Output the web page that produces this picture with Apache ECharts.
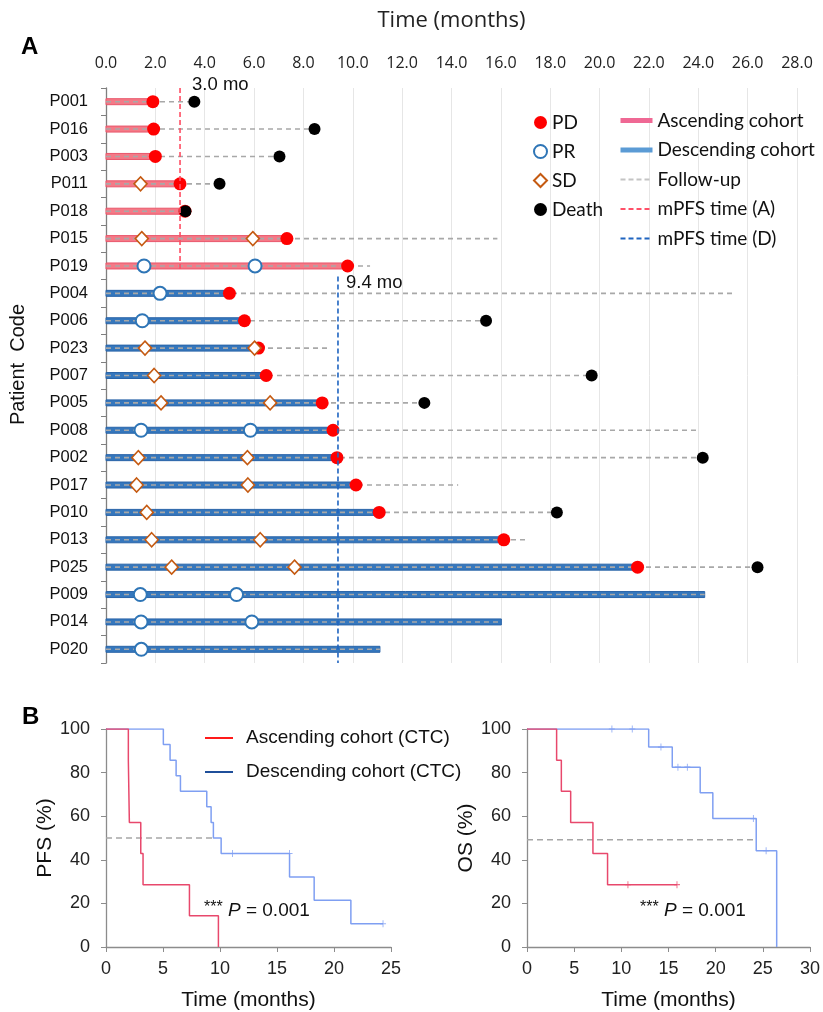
<!DOCTYPE html>
<html>
<head>
<meta charset="utf-8">
<script src="https://cdn.jsdelivr.net/npm/echarts@6/dist/echarts.min.js"></script>
<style>
html,body{margin:0;padding:0;background:#fff;}
#c{width:823px;height:1012px;}
</style>
</head>
<body>
<div id="c"></div>
<script>
// ---------- Panel A data (swimmer plot) ----------
var patients = ['P001','P016','P003','P011','P018','P015','P019','P004','P006','P023','P007','P005','P008','P002','P017','P010','P013','P025','P009','P014','P020'];
var cohorts  = ['A','A','A','A','A','A','A','D','D','D','D','D','D','D','D','D','D','D','D','D','D'];
var treatEnd = [1.9,1.93,2.0,3.0,3.2,7.33,9.79,5.0,5.61,6.18,6.49,8.76,9.2,9.36,10.13,11.07,16.12,21.54,24.26,16.02,11.1];
var followEnd = [3.58,8.45,7.03,4.6,3.2,15.86,10.7,25.4,15.4,9.05,19.68,12.9,23.96,24.18,14.27,18.27,17.04,26.4,24.26,16.02,11.1];
var pdPoints = [[1.9,'P001'],[1.93,'P016'],[2.0,'P003'],[3.0,'P011'],[3.2,'P018'],[7.33,'P015'],[9.79,'P019'],[5.0,'P004'],[5.61,'P006'],[6.18,'P023'],[6.49,'P007'],[8.76,'P005'],[9.2,'P008'],[9.36,'P002'],[10.13,'P017'],[11.07,'P010'],[16.12,'P013'],[21.54,'P025']];
var prPoints = [[1.54,'P019'],[6.04,'P019'],[2.19,'P004'],[1.47,'P006'],[1.42,'P008'],[5.85,'P008'],[1.39,'P009'],[5.29,'P009'],[1.42,'P014'],[5.91,'P014'],[1.43,'P020']];
var sdPoints = [[1.4,'P011'],[1.45,'P015'],[5.95,'P015'],[1.58,'P023'],[6.02,'P023'],[1.95,'P007'],[2.23,'P005'],[6.65,'P005'],[1.31,'P002'],[5.73,'P002'],[1.24,'P017'],[5.75,'P017'],[1.65,'P010'],[1.85,'P013'],[6.25,'P013'],[2.66,'P025'],[7.64,'P025']];
var deathPoints = [[3.58,'P001'],[8.45,'P016'],[7.03,'P003'],[4.6,'P011'],[3.22,'P018'],[15.4,'P006'],[19.68,'P007'],[12.9,'P005'],[24.18,'P002'],[18.27,'P010'],[26.4,'P025']];
var mPFS = [[3.0,'P001','P019','A'],[9.4,'P004','P020','D']];
var timeTicksA = [0,28,2];

// ---------- Panel B data (Kaplan-Meier) ----------
var pfsAsc = [[0,100],[1.96,85.7],[2.05,57.1],[3.05,42.9],[3.25,28.6],[7.32,14.3],[9.86,0]];
var pfsDesc = [[0,100],[5.03,92.9],[5.62,85.7],[6.15,78.6],[6.53,71.4],[8.84,64.3],[9.22,57.1],[9.42,50],[10.1,42.9],[16.1,32.1],[18.26,21.4],[21.48,10.7],[24.3,10.7]];
var pfsDescCens = [[11.1,42.9],[16.1,42.9],[24.3,10.7]];
var pfsMedian = [[0,50],[9.42,50]];
var osAsc = [[0,100],[3.14,85.7],[3.64,71.4],[4.63,57.1],[6.99,42.9],[8.54,28.6],[15.9,28.6]];
var osAscCens = [[10.7,28.6],[15.9,28.6]];
var osDesc = [[0,100],[12.9,91.7],[15.4,82.5],[18.36,70.7],[19.7,58.9],[24.3,44.2],[26.47,0]];
var osDescCens = [[9.0,100],[11.16,100],[14.2,91.7],[16.0,82.5],[17.0,82.5],[24.0,58.9],[25.35,44.2]];
var osMedian = [[0,49.2],[24.2,49.2]];
var pText = '0.001';

var C_ASC_BAR = '#f47a87', C_ASC_EDGE = '#e9566a';
var C_DESC_BAR = '#3577bd', C_DESC_EDGE = '#2a64a8';
var C_KM_RED = '#e8486c', C_KM_BLUE = '#7f9ff2';
var ARIAL = '"Liberation Sans", Arial, sans-serif';

var barData = patients.map(function(p,i){ return [0, treatEnd[i], i, cohorts[i]==='A'?0:1]; });
var followData = patients.map(function(p,i){ return [followEnd[i], i]; });
var mpfsData = mPFS.map(function(m){ return [m[0], patients.indexOf(m[1]), patients.indexOf(m[2]), m[3]==='A'?0:1]; });

var chart = echarts.init(document.getElementById('c'), null, {renderer:'canvas'});

var kmAxisLine = {lineStyle:{color:'#8c8c8c', width:1.3}};
var kmTick = {show:true, length:5, lineStyle:{color:'#8c8c8c'}};
var kmLabel = {fontFamily:ARIAL, fontSize:18, color:'#222'};
var censorSym = 'path://M5,0L5,10M2,5L8,5';
var noSym = {opacity:0};

function pLabel(){ return '{s|***} {i|P} = ' + pText; }
var pRich = {
  s:{fontFamily:ARIAL, fontSize:16, color:'#111', verticalAlign:'top', padding:[0,0,5,0]},
  i:{fontFamily:ARIAL, fontSize:19, fontStyle:'italic', color:'#111'}
};

var option = {
  animation:false,
  backgroundColor:'#ffffff',
  graphic:[
    {type:'text', left:21, top:35, style:{text:'A', font:'bold 24px "Liberation Sans", Arial', fill:'#000'}},
    {type:'text', left:22, top:705, style:{text:'B', font:'bold 24px "Liberation Sans", Arial', fill:'#000'}},
    {type:'text', left:204, top:900, style:{text:pLabel(), rich:pRich, font:'19px "Liberation Sans", Arial', fill:'#111'}},
    {type:'text', left:640, top:900, style:{text:pLabel(), rich:pRich, font:'19px "Liberation Sans", Arial', fill:'#111'}}
  ],
  legend:[
    {data:['PD','PR','SD','Death'], orient:'vertical', left:533, top:113, padding:0,
     itemWidth:13, itemHeight:13, itemGap:10, selectedMode:false,
     textStyle:{fontFamily:'Lato', fontSize:19, lineHeight:19, color:'#111'}},
    {data:[
      {name:'Ascending cohort', lineStyle:{width:5}, itemStyle:noSym},
      {name:'Descending cohort', lineStyle:{width:5}, itemStyle:noSym},
      {name:'Follow-up', lineStyle:{width:2}, itemStyle:noSym},
      {name:'mPFS time (A)', lineStyle:{width:2}, itemStyle:noSym},
      {name:'mPFS time (D)', lineStyle:{width:2}, itemStyle:noSym}],
     orient:'vertical', left:618, top:111, padding:0, itemWidth:32, itemHeight:13, itemGap:10.5, selectedMode:false,
     textStyle:{fontFamily:'Lato', fontSize:19, lineHeight:19, color:'#111'}},
    {data:[
      {name:'Ascending cohort (CTC)', lineStyle:{color:'#ff1a1a', width:2}, itemStyle:noSym},
      {name:'Descending cohort (CTC)', lineStyle:{color:'#1f4f9a', width:2}, itemStyle:noSym}],
     orient:'vertical', left:204, top:728, padding:0, itemWidth:28, itemHeight:14, itemGap:14, selectedMode:false,
     textStyle:{fontFamily:ARIAL, fontSize:19, lineHeight:20, color:'#111', padding:[0,0,0,8]}}
  ],
  grid:[
    {left:106, top:88, width:691, height:575},
    {left:106, top:729, width:285, height:219},
    {left:527, top:729, width:283.5, height:219}
  ],
  xAxis:[
    {gridIndex:0, type:'value', position:'top', min:timeTicksA[0], max:timeTicksA[1], interval:timeTicksA[2],
     name:'Time (months)', nameLocation:'middle', nameGap:56,
     nameTextStyle:{fontFamily:'"Open Sans"', fontSize:22, color:'#222'},
     axisLine:{show:false}, axisTick:{show:false},
     axisLabel:{formatter:function(v){return v.toFixed(1);}, fontFamily:'"Open Sans"', fontSize:16, color:'#222', margin:17},
     splitLine:{show:true, lineStyle:{color:'#e6e6e6', width:1}}},
    {gridIndex:1, type:'value', min:0, max:25, interval:5,
     name:'Time (months)', nameLocation:'middle', nameGap:43,
     nameTextStyle:{fontFamily:ARIAL, fontSize:21, color:'#111'},
     axisLine:kmAxisLine, axisTick:kmTick, axisLabel:Object.assign({margin:13}, kmLabel), splitLine:{show:false}},
    {gridIndex:2, type:'value', min:0, max:30, interval:5,
     name:'Time (months)', nameLocation:'middle', nameGap:43,
     nameTextStyle:{fontFamily:ARIAL, fontSize:21, color:'#111'},
     axisLine:kmAxisLine, axisTick:kmTick, axisLabel:Object.assign({margin:13}, kmLabel), splitLine:{show:false}}
  ],
  yAxis:[
    {gridIndex:0, type:'category', data:patients, inverse:true,
     name:'Patient  Code', nameLocation:'middle', nameRotate:90, nameGap:78,
     nameTextStyle:{fontFamily:ARIAL, fontSize:20, color:'#111', padding:[0,0,0,22]},
     axisLine:{lineStyle:{color:'#7f7f7f', width:1.3}},
     axisTick:{show:true, length:5, lineStyle:{color:'#7f7f7f'}},
     axisLabel:{fontFamily:ARIAL, fontSize:16.5, color:'#111', margin:18},
     splitLine:{show:false}},
    {gridIndex:1, type:'value', min:0, max:100, interval:20,
     name:'PFS (%)', nameLocation:'middle', nameRotate:90, nameGap:43,
     nameTextStyle:{fontFamily:ARIAL, fontSize:21, color:'#111'},
     axisLine:Object.assign({show:true}, kmAxisLine), axisTick:kmTick, axisLabel:Object.assign({margin:16}, kmLabel), splitLine:{show:false}},
    {gridIndex:2, type:'value', min:0, max:100, interval:20,
     name:'OS (%)', nameLocation:'middle', nameRotate:90, nameGap:43,
     nameTextStyle:{fontFamily:ARIAL, fontSize:21, color:'#111'},
     axisLine:Object.assign({show:true}, kmAxisLine), axisTick:kmTick, axisLabel:Object.assign({margin:16}, kmLabel), splitLine:{show:false}}
  ],
  series:[
    {type:'custom', name:'bars', xAxisIndex:0, yAxisIndex:0, data:barData, encode:{x:[0,1], y:2}, z:2,
     renderItem:function(params, api){
       var s = api.coord([api.value(0), api.value(2)]);
       var e = api.coord([api.value(1), api.value(2)]);
       var h = 6; var asc = api.value(3) === 0;
       return {type:'rect', shape:{x:s[0], y:s[1]-h/2, width:e[0]-s[0], height:h},
               style:{fill: asc?C_ASC_BAR:C_DESC_BAR, stroke: asc?C_ASC_EDGE:C_DESC_EDGE, lineWidth:1}};
     }},
    {type:'custom', name:'follow', xAxisIndex:0, yAxisIndex:0, data:followData, encode:{x:0, y:1}, z:3,
     renderItem:function(params, api){
       var s = api.coord([0, api.value(1)]);
       var e = api.coord([api.value(0), api.value(1)]);
       return {type:'line', shape:{x1:s[0], y1:s[1], x2:e[0], y2:e[1]},
               style:{stroke:'#a8a8a8', lineWidth:1.6, lineDash:[5,4]}};
     }},
    {type:'scatter', name:'PD', xAxisIndex:0, yAxisIndex:0, data:pdPoints, symbol:'circle', symbolSize:13, z:4,
     itemStyle:{color:'#ff0000', opacity:1}},
    {type:'scatter', name:'SD', xAxisIndex:0, yAxisIndex:0, data:sdPoints, symbol:'diamond', symbolSize:[13,14], z:5,
     itemStyle:{color:'#ffffff', borderColor:'#c55a11', borderWidth:1.6, opacity:1}},
    {type:'scatter', name:'PR', xAxisIndex:0, yAxisIndex:0, data:prPoints, symbol:'circle', symbolSize:13, z:5,
     itemStyle:{color:'#ffffff', borderColor:'#2e75b6', borderWidth:2, opacity:1}},
    {type:'scatter', name:'Death', xAxisIndex:0, yAxisIndex:0, data:deathPoints, symbol:'circle', symbolSize:12, z:6,
     itemStyle:{color:'#000000', opacity:1}},
    {type:'custom', name:'mpfs', xAxisIndex:0, yAxisIndex:0, data:mpfsData, encode:{x:0, y:[1,2]}, z:7,
     renderItem:function(params, api){
       var asc = api.value(3) === 0;
       var bw = api.size([0,1])[1];
       var t = api.coord([api.value(0), api.value(1)]);
       var b = api.coord([api.value(0), api.value(2)]);
       var top = t[1] - bw*(asc?0.5:0.62);
       var bot = b[1] + bw*(asc?0.22:0.5);
       var x = t[0];
       var label = api.value(0).toFixed(1) + ' mo';
       return {type:'group', children:[
         {type:'line', shape:{x1:x, y1:top, x2:x, y2:bot},
          style:{stroke: asc?'#ff4d63':'#1f64c0', lineWidth:1.6, lineDash:[5,3]}},
         {type:'text', x: x + (asc?12:8), y: asc? top-3 : top+7,
          style:{text:label, fill:'#111', font:'18.5px "Liberation Sans", Arial', verticalAlign:'middle', align:'left'}}
       ]};
     }},
    {type:'line', name:'Ascending cohort', xAxisIndex:0, yAxisIndex:0, data:[], symbol:'none', lineStyle:{color:'#ef6894', width:5}, itemStyle:{color:'#ef6894'}},
    {type:'line', name:'Descending cohort', xAxisIndex:0, yAxisIndex:0, data:[], symbol:'none', lineStyle:{color:'#5b9bd5', width:5}, itemStyle:{color:'#5b9bd5'}},
    {type:'line', name:'Follow-up', xAxisIndex:0, yAxisIndex:0, data:[], symbol:'none', lineStyle:{color:'#c4c4c4', width:2, type:[5,3]}, itemStyle:{color:'#c4c4c4'}},
    {type:'line', name:'mPFS time (A)', xAxisIndex:0, yAxisIndex:0, data:[], symbol:'none', lineStyle:{color:'#ff5068', width:2, type:[5,3]}, itemStyle:{color:'#ff5068'}},
    {type:'line', name:'mPFS time (D)', xAxisIndex:0, yAxisIndex:0, data:[], symbol:'none', lineStyle:{color:'#1f64c0', width:2, type:[5,3]}, itemStyle:{color:'#1f64c0'}},

    {type:'line', name:'pfsMedian', xAxisIndex:1, yAxisIndex:1, data:pfsMedian, symbol:'none', z:1,
     lineStyle:{color:'#a6a6a6', width:1.6, type:[6,4]}},
    {type:'line', name:'Descending cohort (CTC)', xAxisIndex:1, yAxisIndex:1, data:pfsDesc, step:'end', symbol:'none', z:2,
     lineStyle:{color:C_KM_BLUE, width:1.5}, itemStyle:{color:C_KM_BLUE}},
    {type:'line', name:'Ascending cohort (CTC)', xAxisIndex:1, yAxisIndex:1, data:pfsAsc, step:'end', symbol:'none', z:3,
     lineStyle:{color:C_KM_RED, width:1.5}, itemStyle:{color:C_KM_RED}},
    {type:'scatter', name:'pfsDescCens', xAxisIndex:1, yAxisIndex:1, data:pfsDescCens, symbol:censorSym, symbolSize:[6,7], z:4,
     itemStyle:{color:'none', borderColor:C_KM_BLUE, borderWidth:1}},
    {type:'line', name:'osMedian', xAxisIndex:2, yAxisIndex:2, data:osMedian, symbol:'none', z:1,
     lineStyle:{color:'#a6a6a6', width:1.6, type:[6,4]}},
    {type:'line', name:'Descending cohort (CTC)', xAxisIndex:2, yAxisIndex:2, data:osDesc, step:'end', symbol:'none', z:2,
     lineStyle:{color:C_KM_BLUE, width:1.5}, itemStyle:{color:C_KM_BLUE}},
    {type:'line', name:'Ascending cohort (CTC)', xAxisIndex:2, yAxisIndex:2, data:osAsc, step:'end', symbol:'none', z:3,
     lineStyle:{color:C_KM_RED, width:1.5}, itemStyle:{color:C_KM_RED}},
    {type:'scatter', name:'osDescCens', xAxisIndex:2, yAxisIndex:2, data:osDescCens, symbol:censorSym, symbolSize:[6,7], z:4,
     itemStyle:{color:'none', borderColor:C_KM_BLUE, borderWidth:1}},
    {type:'scatter', name:'osAscCens', xAxisIndex:2, yAxisIndex:2, data:osAscCens, symbol:censorSym, symbolSize:[6,7], z:4,
     itemStyle:{color:'none', borderColor:C_KM_RED, borderWidth:1}}
  ]
};
chart.setOption(option);
</script>
</body>
</html>
